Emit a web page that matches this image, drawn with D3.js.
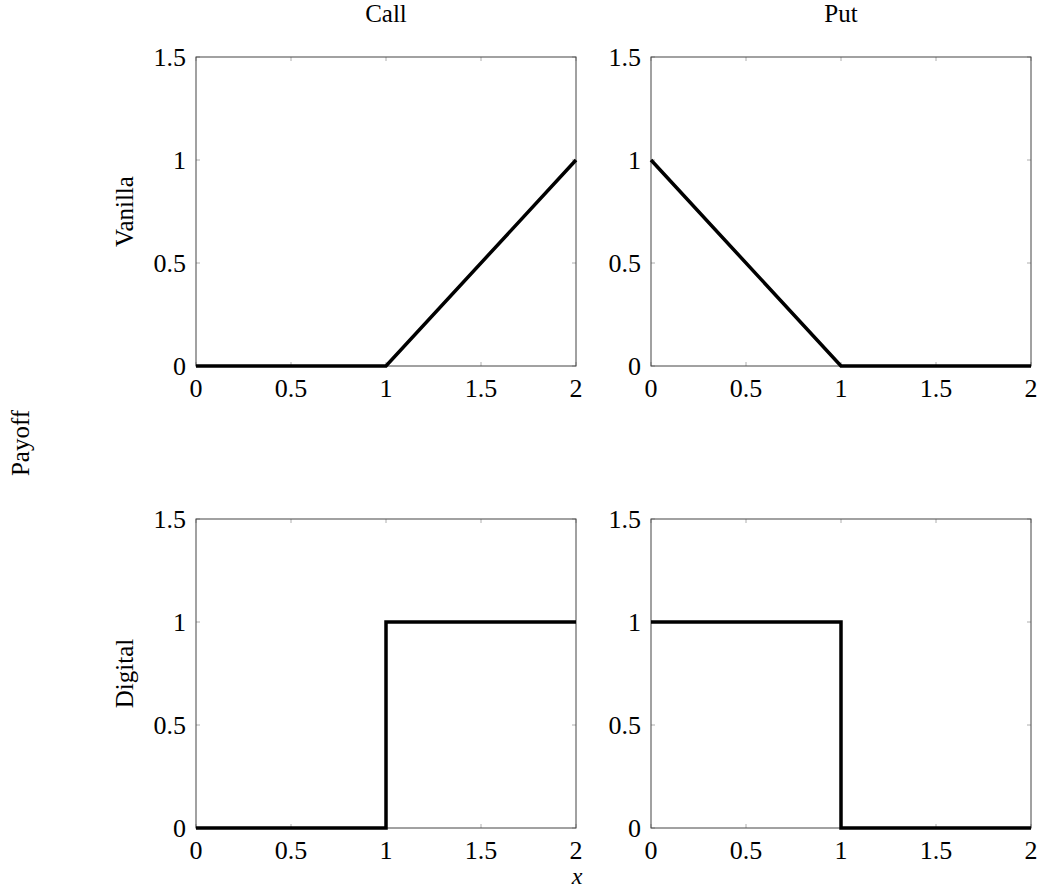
<!DOCTYPE html>
<html>
<head>
<meta charset="utf-8">
<script src="https://cdn.jsdelivr.net/npm/d3@7"></script>
<style>
  body { margin: 0; background: #fff; }
  svg text { font-family: "Liberation Serif", "Times New Roman", Times, serif; fill: #000; }
</style>
</head>
<body>
<svg id="chart" width="1038" height="891"></svg>
<script>
// datos
const columnTitles = ['Call', 'Put'];
const rowTitles = ['Vanilla', 'Digital'];
const xTicks = [0, 0.5, 1, 1.5, 2];
const yTicks = [0, 0.5, 1, 1.5];

const vanillaCall = [[0, 0], [1, 0], [2, 1]];
const vanillaPut = [[0, 1], [1, 0], [2, 0]];
const digitalCall = [[0, 0], [1, 0], [1, 1], [2, 1]];
const digitalPut = [[0, 1], [1, 1], [1, 0], [2, 0]];

const panels = [
  { row: 0, col: 0, data: vanillaCall },
  { row: 0, col: 1, data: vanillaPut },
  { row: 1, col: 0, data: digitalCall },
  { row: 1, col: 1, data: digitalPut }
];

const svg = d3.select('#chart');

const W = 380, H = 309;
const lefts = [196, 651];
const tops = [57, 519];

const x = d3.scaleLinear().domain([0, 2]).range([0, W]);
const y = d3.scaleLinear().domain([0, 1.5]).range([H, 0]);

const line = d3.line().x(d => x(d[0])).y(d => y(d[1]));

panels.forEach(p => {
  const g = svg.append('g')
    .attr('transform', `translate(${lefts[p.col]},${tops[p.row]})`);

  // ticks (hacia dentro, en los cuatro lados)
  const tk = g.append('g').attr('stroke', '#999').attr('stroke-width', 0.8);
  xTicks.forEach(t => {
    tk.append('line').attr('x1', x(t)).attr('x2', x(t)).attr('y1', H).attr('y2', H - 4);
    tk.append('line').attr('x1', x(t)).attr('x2', x(t)).attr('y1', 0).attr('y2', 4);
  });
  yTicks.forEach(t => {
    tk.append('line').attr('x1', 0).attr('x2', 4).attr('y1', y(t)).attr('y2', y(t));
    tk.append('line').attr('x1', W).attr('x2', W - 4).attr('y1', y(t)).attr('y2', y(t));
  });

  // caja
  g.append('rect')
    .attr('width', W).attr('height', H)
    .attr('fill', 'none').attr('stroke', '#444').attr('stroke-width', 1);

  // etiquetas de ejes
  g.append('g').selectAll('text')
    .data(xTicks).enter().append('text')
    .attr('x', d => x(d)).attr('y', H + 31)
    .attr('text-anchor', 'middle').attr('font-size', 26)
    .text(d => d);

  g.append('g').selectAll('text')
    .data(yTicks).enter().append('text')
    .attr('x', -10).attr('y', d => y(d) + 9)
    .attr('text-anchor', 'end').attr('font-size', 26)
    .text(d => d);

  // curva
  g.append('path')
    .attr('d', line(p.data))
    .attr('fill', 'none').attr('stroke', '#000')
    .attr('stroke-width', 3.5).attr('stroke-linejoin', 'miter');
});

// títulos
columnTitles.forEach((t, i) => {
  svg.append('text')
    .attr('x', lefts[i] + W / 2).attr('y', 22)
    .attr('text-anchor', 'middle').attr('font-size', 25)
    .text(t);
});

rowTitles.forEach((t, i) => {
  svg.append('text')
    .attr('transform', `translate(133,${tops[i] + H / 2}) rotate(-90)`)
    .attr('text-anchor', 'middle').attr('font-size', 25)
    .text(t);
});

svg.append('text')
  .attr('transform', 'translate(29,443) rotate(-90)')
  .attr('text-anchor', 'middle').attr('font-size', 25)
  .text('Payoff');

svg.append('text')
  .attr('x', 577).attr('y', 884)
  .attr('text-anchor', 'middle').attr('font-size', 24)
  .attr('font-style', 'italic')
  .text('x');
</script>
</body>
</html>
